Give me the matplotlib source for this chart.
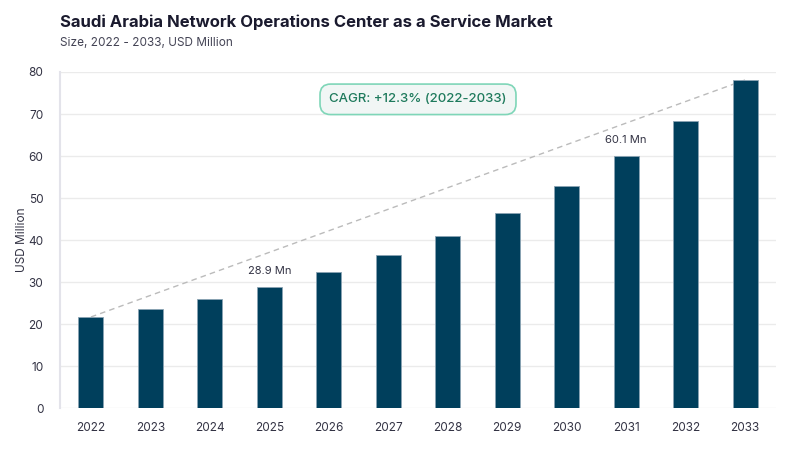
import matplotlib.pyplot as plt

years = ["2022", "2023", "2024", "2025", "2026", "2027", "2028", "2029", "2030", "2031", "2032", "2033"]
values = [21.7, 23.5, 26.0, 28.9, 32.4, 36.4, 41.0, 46.5, 52.9, 60.1, 68.4, 78.1]
labeled = {3: "28.9 Mn", 9: "60.1 Mn"}
cagr_text = "CAGR: +12.3% (2022-2033)"

plt.rcParams["font.family"] = ["Inter", "DejaVu Sans"]

fig = plt.figure(figsize=(8, 4.5), dpi=100)
ax = fig.add_axes([0.075, 0.093, 0.895, 0.747])

x = list(range(len(years)))
ax.bar(x, values, width=0.42, color="#003f5c", edgecolor="#8aa3b3", linewidth=0.6, zorder=3)

# trend line from first to last bar
ax.plot([x[0], x[-1]], [values[0], values[-1]], linestyle=(0, (4, 3)), color="#bbbbbb", linewidth=1, zorder=2)

for i, txt in labeled.items():
    ax.text(i, values[i] + 2.5, txt, ha="center", va="bottom", fontsize=8, color="#333344")

ax.text(5.5, 73.5, cagr_text, ha="center", va="center", fontsize=9.5, color="#1e7a5c", fontweight="medium",
        bbox=dict(boxstyle="round,pad=0.7,rounding_size=0.8", facecolor="#f1f6f5", edgecolor="#7fd6b8", linewidth=1.2),
        zorder=5)

ax.set_xlim(-0.52, 11.52)
ax.set_ylim(0, 80)
ax.set_yticks(range(0, 81, 10))
ax.set_xticks(x)
ax.set_xticklabels(years)
ax.grid(axis="y", color="#ebebeb", linewidth=1, zorder=0)
for s in ["top", "right", "bottom"]:
    ax.spines[s].set_visible(False)
ax.spines["left"].set_color("#e3e3ea")
ax.spines["left"].set_linewidth(1.5)
ax.tick_params(axis="both", length=0, labelsize=8.5, labelcolor="#333344")
ax.tick_params(axis="x", pad=10)
ax.tick_params(axis="y", pad=12)
ax.set_ylabel("USD Million", fontsize=8.5, color="#333344", labelpad=0)

fig.text(0.075, 0.95, "Saudi Arabia Network Operations Center as a Service Market", fontsize=12,
         fontweight="bold", color="#1a1a2e", va="center")
fig.text(0.075, 0.905, "Size, 2022 - 2033, USD Million", fontsize=8.5, color="#444455", va="center")

fig.savefig("out.png", dpi=100)
